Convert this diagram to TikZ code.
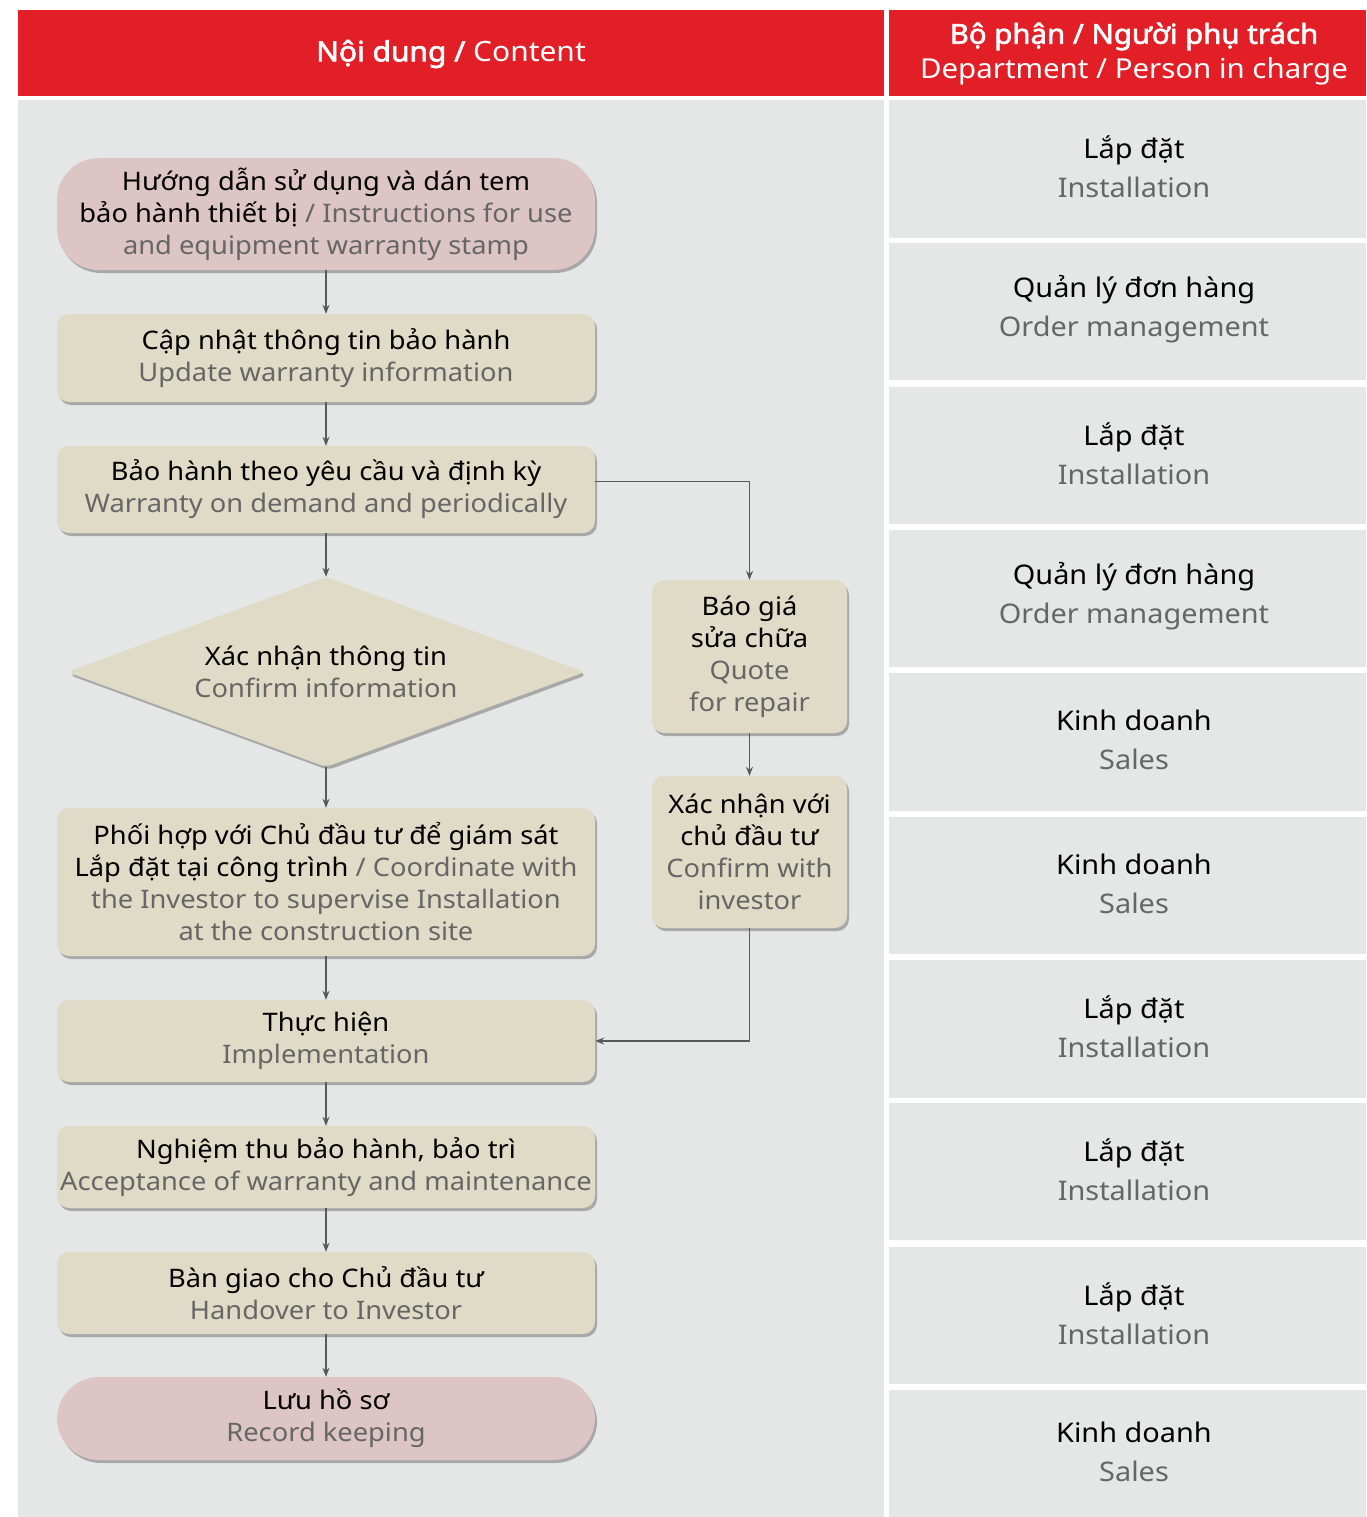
\documentclass[tikz,border=0pt]{standalone}
\usepackage{fontspec}
\setmainfont{Noto Sans}[FakeStretch=1.07]
\newfontfamily\hdrbold{Noto Sans}[FakeStretch=1.07, FakeBold=2.2]
\usetikzlibrary{shapes.geometric,shadows,arrows.meta}
\definecolor{hdrred}{HTML}{E21E26}
\definecolor{panel}{HTML}{E5E6E6}
\definecolor{beige}{HTML}{E0DBC7}
\definecolor{pinkbox}{HTML}{DDC5C6}
\definecolor{entxt}{HTML}{666666}
\definecolor{arr}{HTML}{5A5A5A}
\newcommand{\en}[1]{\textcolor{entxt}{#1}}
\tikzset{
  txt/.style={font=\fontsize{25.5}{32}\selectfont, align=center, text=black},
  shad/.style={drop shadow={shadow xshift=2pt, shadow yshift=-3pt, fill=black!50, opacity=.6}},
  proc/.style={txt, shad, fill=beige, rounded corners=12pt, minimum width=538pt, inner sep=0pt},
  term/.style={txt, shad, fill=pinkbox, rounded corners=42pt, minimum width=538pt, inner sep=0pt},
  side/.style={txt, shad, fill=beige, rounded corners=12pt, minimum width=195pt, inner sep=0pt},
  decis/.style={txt, shad, fill=beige, diamond, aspect=2.7, rounded corners=6pt, minimum width=518pt, minimum height=190pt, inner sep=0pt},
  flow/.style={draw=arr, line width=1.2pt, -{Stealth[length=9pt,width=7pt]}},
  cell/.style={font=\fontsize{27}{39}\selectfont, align=center, text=black},
  hdr/.style={text=white, align=center}
}
\begin{document}
\begin{tikzpicture}[x=1pt,y=-1pt]
\useasboundingbox (0,0) rectangle (1366,1517);
\fill[white] (0,0) rectangle (1366,1517);
% header
\fill[hdrred] (18,10) rectangle (884,96);
\fill[hdrred] (889,10) rectangle (1366,96);
\node[hdr, font=\fontsize{28}{32}\selectfont] (h1) at (451,54) {{\hdrbold Nội dung /} Content};
\node[hdr, font=\fontsize{27.5}{35}\selectfont] (h2) at (1134,54) {{\hdrbold Bộ phận / Người phụ trách}\\Department / Person in charge};
% body panels
\fill[panel] (18,100) rectangle (884,1517);
\foreach \t/\b/\vi/\e [count=\i] in {
  100/238/Lắp đặt/Installation,
  243/380/Quản lý đơn hàng/Order management,
  387/524/Lắp đặt/Installation,
  530/667/Quản lý đơn hàng/Order management,
  673/811/Kinh doanh/Sales,
  817/954/Kinh doanh/Sales,
  960/1098/Lắp đặt/Installation,
  1103/1240/Lắp đặt/Installation,
  1247/1384/Lắp đặt/Installation,
  1390/1517/Kinh doanh/Sales}{
  \fill[panel] (889,\t) rectangle (1366,\b);
  \node[cell] (cell\i) at (1134,{(\t+\b)/2 - 2}) {\vi\\\en{\e}};
}
% flow nodes
\node[term, minimum height=112pt] (n1) at (326,214) {Hướng dẫn sử dụng và dán tem\\bảo hành thiết bị \en{/ Instructions for use}\\\en{and equipment warranty stamp}};
\node[proc, minimum height=88pt] (n2) at (326,358) {Cập nhật thông tin bảo hành\\\en{Update warranty information}};
\node[proc, minimum height=87pt] (n3) at (326,489.5) {Bảo hành theo yêu cầu và định kỳ\\\en{Warranty on demand and periodically}};
\node[decis] (n4) at (326,672) {Xác nhận thông tin\\\en{Confirm information}};
\node[proc, minimum height=148pt] (n5) at (326,882) {Phối hợp với Chủ đầu tư để giám sát\\Lắp đặt tại công trình \en{/ Coordinate with}\\\en{the Investor to supervise Installation}\\\en{at the construction site}};
\node[proc, minimum height=82pt] (n6) at (326,1041) {Thực hiện\\\en{Implementation}};
\node[proc, minimum height=82pt] (n7) at (326,1167) {Nghiệm thu bảo hành, bảo trì\\\en{Acceptance of warranty and maintenance}};
\node[proc, minimum height=82pt] (n8) at (326,1293) {Bàn giao cho Chủ đầu tư\\\en{Handover to Investor}};
\node[term, minimum height=83pt] (n9) at (326,1418.5) {Lưu hồ sơ\\\en{Record keeping}};
\node[side, minimum height=153pt] (q) at (749.5,656.5) {Báo giá\\sửa chữa\\\en{Quote}\\\en{for repair}};
\node[side, minimum height=152pt] (c) at (749.5,852) {Xác nhận với\\chủ đầu tư\\\en{Confirm with}\\\en{investor}};
% connectors
\draw[flow] (n1.south) -- (n2.north);
\draw[flow] (n2.south) -- (n3.north);
\draw[flow] (n3.south) -- (n4.north);
\draw[flow] (n4.south) -- (n5.north);
\draw[flow] (n5.south) -- (n6.north);
\draw[flow] (n6.south) -- (n7.north);
\draw[flow] (n7.south) -- (n8.north);
\draw[flow] (n8.south) -- (n9.north);
\draw[flow] ([yshift=8pt]n3.east) -| (q.north);
\draw[flow] (q.south) -- (c.north);
\draw[flow] (c.south) |- (n6.east);
\end{tikzpicture}
\end{document}
